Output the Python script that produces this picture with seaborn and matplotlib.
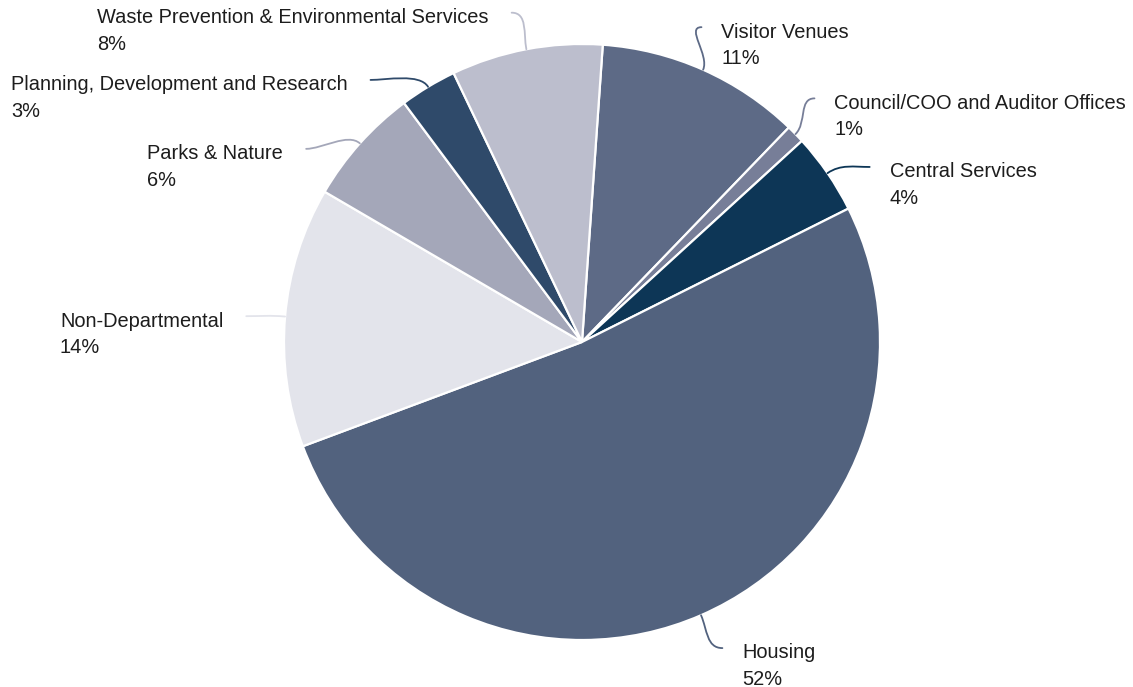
import numpy as np
import matplotlib
matplotlib.use("Agg")
import matplotlib.pyplot as plt
from matplotlib.path import Path
from matplotlib.patches import PathPatch
import seaborn as sns

# ---------------- data ----------------
categories = [
    "Visitor Venues",
    "Council/COO and Auditor Offices",
    "Central Services",
    "Housing",
    "Non-Departmental",
    "Parks & Nature",
    "Planning, Development and Research",
    "Waste Prevention & Environmental Services",
]
shares = [11.1, 1.0, 4.4, 51.7, 14.1, 6.4, 3.1, 8.2]

# ---------------- style / layout ----------------
colors = ["#5d6a86", "#777e98", "#0d3656", "#52627e",
          "#e3e4eb", "#a4a7b9", "#2f4a6a", "#bcbecd"]
label_nudge_deg = [-3.2, -2.1, 3.2, -1.1, -0.5, -6.8, -7.8, -1.3]
start_cw = 4.0          # first wedge starts 4 deg clockwise of 12 o'clock

W, H, DPI = 1133, 687, 100
R_PX = 298
CX, CY = 582, 345       # pie centre in px (from bottom-left)
px = 1.0 / R_PX

sns.set_theme(style="white")
plt.rcParams["font.family"] = ["Liberation Sans", "DejaVu Sans"]

fig = plt.figure(figsize=(W / DPI, H / DPI), dpi=DPI)
ax = fig.add_axes([0, 0, 1, 1])
pal = sns.color_palette(colors)

ax.pie(shares, colors=pal, startangle=90 - start_cw, counterclock=False,
       radius=1, center=(0, 0), frame=False,
       wedgeprops=dict(edgecolor="white", linewidth=1.6))
ax.set_xlim(-CX / R_PX, (W - CX) / R_PX)
ax.set_ylim(-CY / R_PX, (H - CY) / R_PX)
ax.axis("off")

vals = np.array(shares, dtype=float)
frac = vals / vals.sum()
cum = np.concatenate([[0], np.cumsum(frac)[:-1]])

for i, name in enumerate(categories):
    mid_cw = start_cw + 360 * (cum[i] + frac[i] / 2)
    lab_cw = mid_cw + label_nudge_deg[i]
    a, b = np.radians(mid_cw), np.radians(lab_cw)
    d0 = np.array([np.sin(a), np.cos(a)])
    p0 = d0 * 1.0
    p3 = np.array([np.sin(b), np.cos(b)]) * 1.13
    side = 1 if p3[0] >= 0 else -1
    p1 = p0 + d0 * 16 * px
    p2 = p3 - np.array([side * 16 * px, 0])
    path = Path([p0, p1, p2, p3],
                [Path.MOVETO, Path.CURVE4, Path.CURVE4, Path.CURVE4])
    ax.add_patch(PathPatch(path, fill=False, edgecolor=pal[i], lw=1.3,
                           capstyle="round"))
    gap = 20 if side > 0 else 23
    tx = p3[0] + side * gap * px
    ty = p3[1] - 37 * px
    ax.text(tx, ty, f"{name}\n{round(shares[i])}%",
            ha="left" if side > 0 else "right", multialignment="left",
            va="baseline", fontsize=14.4, color="#1d1d1d", linespacing=1.51)

fig.savefig("out.png", dpi=DPI)
